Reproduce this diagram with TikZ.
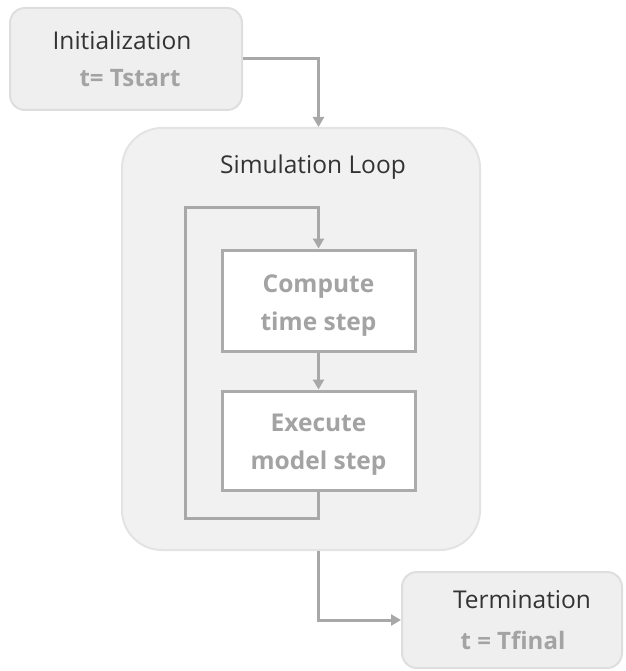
\documentclass[tikz,border=0pt]{standalone}
\usepackage{fontspec}
\setmainfont{Open Sans}
\usetikzlibrary{arrows.meta,calc}
\definecolor{boxfill}{HTML}{EFEFEF}
\definecolor{boxline}{HTML}{DEDEDE}
\definecolor{loopfill}{HTML}{F1F1F1}
\definecolor{loopline}{HTML}{E3E3E3}
\definecolor{stepline}{HTML}{ABABAB}
\definecolor{connc}{HTML}{A8A8A8}
\definecolor{darktxt}{HTML}{333333}
\definecolor{graytxt}{HTML}{A3A3A3}
\tikzset{
  endbox/.style={draw=boxline,line width=2pt,fill=boxfill,rounded corners=15pt,inner sep=0pt},
  loopbox/.style={draw=loopline,line width=2pt,fill=loopfill,rounded corners=40pt,inner sep=0pt},
  stepbox/.style={draw=stepline,line width=3pt,fill=white,inner sep=0pt},
  steptxt/.style={text=graytxt,inner sep=0pt,
    font=\fontsize{24.5}{38}\selectfont\bfseries,align=center},
  title/.style={text=darktxt,font=\fontsize{24.5}{29}\selectfont,inner sep=0pt},
  value/.style={text=graytxt,font=\fontsize{24}{29}\selectfont\bfseries,inner sep=0pt},
  conn/.style={draw=connc,line width=3pt,-{Triangle[length=10pt,width=11pt]}}
}
\begin{document}
\begin{tikzpicture}[x=1pt,y=-1pt]
\useasboundingbox (0,0) rectangle (625,671);
\node[endbox,minimum width=232pt,minimum height=102pt] (init) at (126,59) {};
\node[title] (inittxt) at (122,40) {Initialization};
\node[value] (initval) at (130,78) {t= Tstart};
\node[loopbox,minimum width=358pt,minimum height=422pt] (loop) at (301,339) {};
\node[title] (looptxt) at (313,167) {Simulation Loop};
\node[stepbox,minimum width=193pt,minimum height=101pt] (cmp) at (318.5,300.5) {};
\node[steptxt] (cmptxt) at ($(cmp)+(0,5)$) {Compute\\time step};
\node[stepbox,minimum width=193pt,minimum height=99pt] (exe) at (318.5,440.5) {};
\node[steptxt] (exetxt) at ($(exe)+(0,4)$) {Execute\\model step};
\node[endbox,minimum width=220pt,minimum height=96pt] (term) at (512,620) {};
\node[title] (termtxt) at (522,600) {Termination};
\node[value] (termval) at (513,640) {t = Tfinal};
\coordinate (lb) at (185,518);
\coordinate (lt) at (185,207);
\draw[conn] (init.east) -| (cmp.north |- loop.north);
\draw[conn] (exe.south) |- (lb) -- (lt) -| (cmp.north);
\draw[conn] (cmp.south) -- (exe.north);
\draw[conn] (cmp.south |- loop.south) |- (term.west);
\end{tikzpicture}
\end{document}
